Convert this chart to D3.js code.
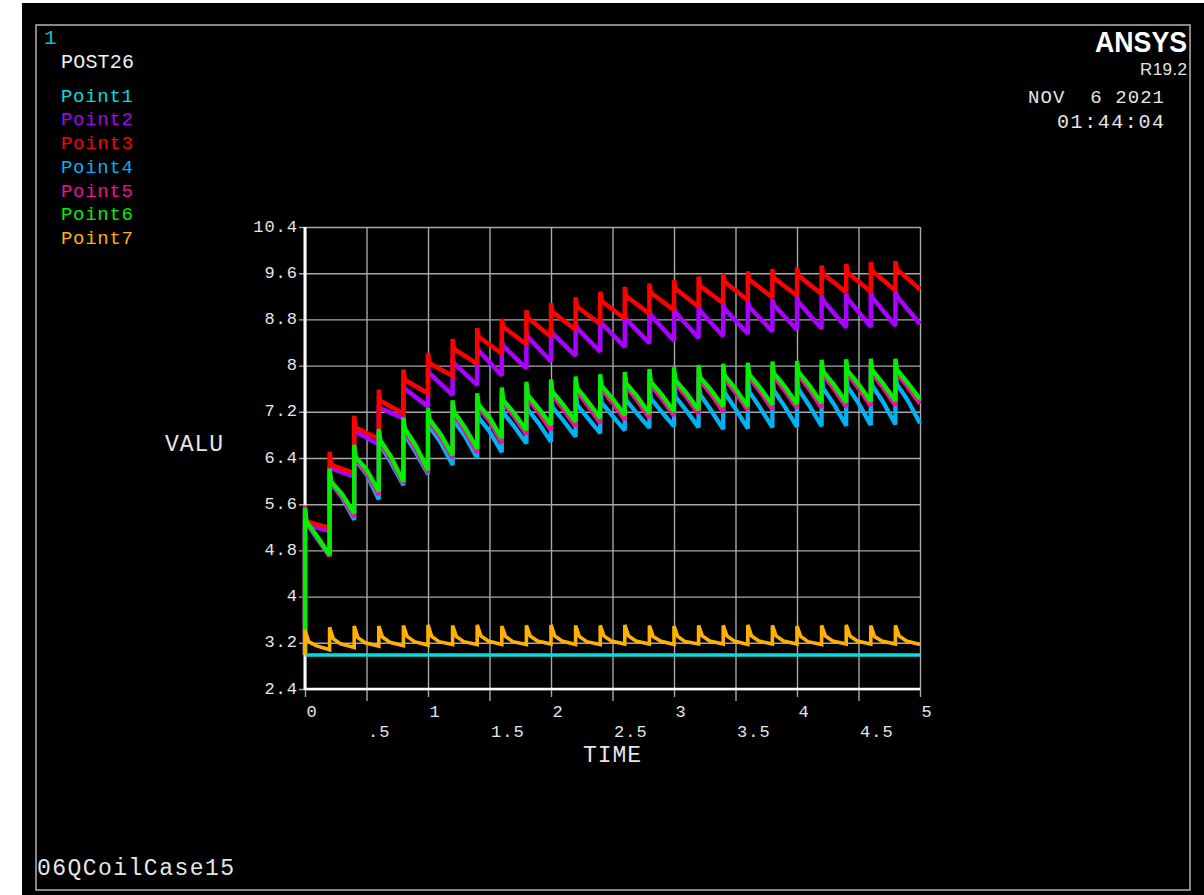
<!DOCTYPE html>
<meta charset="utf-8">
<style>
body { margin: 0; background: #fff; }
svg text { font-family: "Liberation Mono", "DejaVu Sans Mono", monospace; white-space: pre; }
.grid line { stroke: #a8a8a8; stroke-width: 1.4; }
.grid path { display: none; }
.tick text { fill: #e6e6e6; font-size: 17px; letter-spacing: 1px; }
</style>
<body>
<script src="https://cdn.jsdelivr.net/npm/d3@7"></script>
<script>
// legend
var pointNames = ["Point1", "Point2", "Point3", "Point4", "Point5", "Point6", "Point7"];
var pointColors = ["#00dede", "#a900ff", "#ff0000", "#00b2f4", "#f0109c", "#00f000", "#ffb000"];

// axes
var xTickValues = [0, 0.5, 1, 1.5, 2, 2.5, 3, 3.5, 4, 4.5, 5];
var xTickLabels = ["0", ".5", "1", "1.5", "2", "2.5", "3", "3.5", "4", "4.5", "5"];
var yTickValues = [2.4, 3.2, 4, 4.8, 5.6, 6.4, 7.2, 8, 8.8, 9.6, 10.4];
var yTickLabels = ["2.4", "3.2", "4", "4.8", "5.6", "6.4", "7.2", "8", "8.8", "9.6", "10.4"];

// heat pulses every 0.2 s
var cycleStart = [0, 0.2, 0.4, 0.6, 0.8, 1, 1.2, 1.4, 1.6, 1.8, 2, 2.2, 2.4, 2.6, 2.8,
                  3, 3.2, 3.4, 3.6, 3.8, 4, 4.2, 4.4, 4.6, 4.8];
var startValue = 2.99;

// Point1: flat
var point1Times = [0, 5];
var point1Values = [2.99, 2.99];

// Point2, Point3: [peak, after jump, before next jump]
var sawOffsets = [0, 0.012, 0.2];
var point2 = [
  [5.30, 5.24, 5.14], [6.26, 6.22, 6.08], [6.92, 6.86, 6.63], [7.32, 7.26, 7.09], [7.68, 7.60, 7.29],
  [7.95, 7.87, 7.49], [8.13, 8.04, 7.66], [8.35, 8.26, 7.83], [8.43, 8.34, 7.95], [8.58, 8.50, 8.07],
  [8.65, 8.56, 8.17], [8.74, 8.65, 8.24], [8.82, 8.73, 8.32], [8.89, 8.80, 8.39], [8.96, 8.87, 8.43],
  [9.01, 8.92, 8.48], [9.05, 8.95, 8.51], [9.08, 8.98, 8.55], [9.12, 9.02, 8.59], [9.15, 9.05, 8.62],
  [9.19, 9.10, 8.64], [9.22, 9.13, 8.66], [9.25, 9.16, 8.67], [9.27, 9.18, 8.69], [9.29, 9.20, 8.72]
];
var point3 = [
  [5.32, 5.30, 5.19], [6.51, 6.28, 6.14], [7.13, 6.93, 6.73], [7.58, 7.39, 7.17], [7.93, 7.75, 7.52],
  [8.22, 8.04, 7.82], [8.46, 8.29, 8.03], [8.65, 8.50, 8.21], [8.81, 8.67, 8.37], [8.96, 8.83, 8.50],
  [9.08, 8.93, 8.62], [9.18, 9.02, 8.72], [9.28, 9.12, 8.81], [9.36, 9.20, 8.90], [9.42, 9.26, 8.96],
  [9.48, 9.33, 9.02], [9.54, 9.38, 9.08], [9.59, 9.45, 9.13], [9.63, 9.49, 9.18], [9.67, 9.52, 9.21],
  [9.70, 9.56, 9.24], [9.73, 9.59, 9.27], [9.76, 9.61, 9.28], [9.79, 9.64, 9.30], [9.81, 9.67, 9.32]
];

// Point4..Point6: [peak, after jump, mid cycle, before next jump]
var bowOffsets = [0, 0.012, 0.1, 0.2];
var point4 = [
  [5.50, 5.28, 5.00, 4.70], [6.18, 5.96, 5.72, 5.33], [6.58, 6.36, 6.12, 5.68], [6.85, 6.62, 6.32, 5.93],
  [7.03, 6.80, 6.50, 6.12], [7.18, 6.94, 6.68, 6.28], [7.30, 7.04, 6.78, 6.40], [7.40, 7.10, 6.86, 6.50],
  [7.48, 7.18, 6.95, 6.65], [7.55, 7.24, 7.00, 6.68], [7.60, 7.28, 7.05, 6.77], [7.64, 7.32, 7.09, 6.83],
  [7.68, 7.36, 7.13, 6.88], [7.72, 7.40, 7.17, 6.92], [7.75, 7.43, 7.20, 6.95], [7.78, 7.46, 7.22, 6.93],
  [7.80, 7.50, 7.23, 6.90], [7.82, 7.53, 7.25, 6.91], [7.84, 7.55, 7.27, 6.93], [7.86, 7.57, 7.29, 6.94],
  [7.88, 7.59, 7.31, 6.95], [7.90, 7.61, 7.33, 6.96], [7.91, 7.63, 7.35, 6.97], [7.92, 7.65, 7.37, 6.98],
  [7.93, 7.68, 7.40, 7.00]
];
var point5 = [
  [5.58, 5.28, 5.02, 4.70], [6.20, 5.97, 5.74, 5.38], [6.60, 6.38, 6.15, 5.76], [6.87, 6.66, 6.37, 5.96],
  [7.06, 6.86, 6.56, 6.14], [7.22, 7.02, 6.76, 6.40], [7.36, 7.15, 6.87, 6.49], [7.47, 7.27, 7.04, 6.65],
  [7.57, 7.35, 7.12, 6.80], [7.66, 7.43, 7.19, 6.88], [7.71, 7.49, 7.25, 6.94], [7.75, 7.55, 7.31, 7.00],
  [7.79, 7.59, 7.36, 7.06], [7.83, 7.63, 7.40, 7.09], [7.88, 7.66, 7.43, 7.13], [7.91, 7.69, 7.46, 7.16],
  [7.95, 7.74, 7.51, 7.20], [7.97, 7.77, 7.53, 7.23], [7.99, 7.79, 7.55, 7.24], [8.01, 7.81, 7.57, 7.26],
  [8.02, 7.83, 7.59, 7.27], [8.04, 7.84, 7.60, 7.28], [8.05, 7.85, 7.61, 7.30], [8.06, 7.86, 7.62, 7.31],
  [8.06, 7.87, 7.63, 7.34]
];
var point6 = [
  [5.53, 5.30, 5.04, 4.72], [6.22, 5.99, 5.78, 5.44], [6.63, 6.42, 6.20, 5.82], [6.90, 6.71, 6.42, 5.99],
  [7.10, 6.91, 6.62, 6.19], [7.26, 7.07, 6.82, 6.45], [7.40, 7.20, 6.93, 6.56], [7.52, 7.32, 7.10, 6.74],
  [7.62, 7.40, 7.18, 6.88], [7.72, 7.49, 7.26, 6.97], [7.76, 7.55, 7.32, 7.03], [7.81, 7.61, 7.38, 7.09],
  [7.85, 7.65, 7.43, 7.14], [7.89, 7.69, 7.47, 7.17], [7.94, 7.72, 7.50, 7.20], [7.97, 7.75, 7.53, 7.23],
  [8.01, 7.80, 7.58, 7.29], [8.03, 7.83, 7.60, 7.29], [8.05, 7.85, 7.62, 7.32], [8.07, 7.87, 7.64, 7.33],
  [8.08, 7.89, 7.66, 7.35], [8.10, 7.90, 7.67, 7.36], [8.11, 7.91, 7.68, 7.38], [8.12, 7.92, 7.69, 7.39],
  [8.12, 7.93, 7.70, 7.42]
];

// Point7: [spike, +0.03, +0.09, before next jump]
var spikeOffsets = [0, 0.03, 0.09, 0.2];
var point7 = [
  [3.42, 3.22, 3.15, 3.08], [3.47, 3.27, 3.18, 3.12], [3.49, 3.29, 3.20, 3.14], [3.49, 3.30, 3.21, 3.15],
  [3.50, 3.31, 3.22, 3.16], [3.51, 3.31, 3.22, 3.17], [3.50, 3.31, 3.22, 3.17], [3.51, 3.32, 3.23, 3.17],
  [3.49, 3.31, 3.22, 3.17], [3.50, 3.32, 3.23, 3.18], [3.51, 3.32, 3.23, 3.17], [3.50, 3.31, 3.22, 3.17],
  [3.50, 3.32, 3.23, 3.18], [3.51, 3.32, 3.23, 3.18], [3.50, 3.31, 3.23, 3.17], [3.49, 3.31, 3.22, 3.18],
  [3.50, 3.32, 3.23, 3.18], [3.50, 3.32, 3.23, 3.17], [3.51, 3.32, 3.23, 3.18], [3.50, 3.32, 3.23, 3.18],
  [3.49, 3.31, 3.22, 3.17], [3.50, 3.32, 3.23, 3.18], [3.51, 3.32, 3.23, 3.18], [3.50, 3.31, 3.23, 3.18],
  [3.50, 3.32, 3.23, 3.17]
];

var W = 1204, H = 895;
var svg = d3.select("body").append("svg")
    .attr("width", W)
    .attr("height", H);

svg.append("rect").attr("width", W).attr("height", H).attr("fill", "#fff");
svg.append("rect").attr("x", 22).attr("y", 3).attr("width", W - 22).attr("height", H - 3).attr("fill", "#000");
svg.append("rect").attr("x", 36).attr("y", 25).attr("width", 1154).attr("height", 865)
    .attr("fill", "none").attr("stroke", "#b4b4b4").attr("stroke-width", 1.5);

var pLeft = 305, pRight = 920, pTop = 227, pBottom = 689;
var x = d3.scaleLinear().domain([0, 5]).range([pLeft, pRight]);
var y = d3.scaleLinear().domain([2.4, 10.4]).range([pBottom, pTop]);

// grid + labels, y
var gy = svg.append("g").attr("class", "grid")
    .attr("transform", "translate(" + pLeft + ",0)")
    .call(d3.axisLeft(y).tickValues(yTickValues)
      .tickFormat(function(d, i) { return yTickLabels[i]; })
      .tickSizeInner(-(pRight - pLeft)).tickSizeOuter(0).tickPadding(7));
gy.selectAll(".tick line").attr("x1", -6);
gy.selectAll(".tick text").attr("dy", 4);

// grid + labels, x
var gx = svg.append("g").attr("class", "grid")
    .attr("transform", "translate(0," + pBottom + ")")
    .call(d3.axisBottom(x).tickValues(xTickValues)
      .tickFormat(function(d, i) { return xTickLabels[i]; })
      .tickSizeInner(-(pBottom - pTop)).tickSizeOuter(0));
gx.selectAll(".tick line").attr("y1", function(d) { return d % 1 ? 12 : 8; });
gx.selectAll(".tick text")
    .attr("text-anchor", "start")
    .attr("x", 1)
    .attr("dy", 0)
    .attr("y", function(d) { return d % 1 ? 48 : 28; });

// white axis lines
svg.append("line").attr("x1", pLeft).attr("x2", pLeft).attr("y1", pTop).attr("y2", pBottom + 1)
    .attr("stroke", "#fff").attr("stroke-width", 3);
svg.append("line").attr("x1", pLeft).attr("x2", pRight).attr("y1", pBottom).attr("y2", pBottom)
    .attr("stroke", "#fff").attr("stroke-width", 2.5);

function cyclePoints(offsets, table) {
  var pts = [[0, startValue]];
  table.forEach(function(c, k) {
    c.forEach(function(v, j) { pts.push([cycleStart[k] + offsets[j], v]); });
  });
  return pts;
}

var series = [
  {pts: point1Times.map(function(t, i) { return [t, point1Values[i]]; }), w: 3.4},
  {pts: cyclePoints(sawOffsets, point2), w: 4.5},
  {pts: cyclePoints(sawOffsets, point3), w: 4.5},
  {pts: cyclePoints(bowOffsets, point4), w: 4.3},
  {pts: cyclePoints(bowOffsets, point5), w: 4.3},
  {pts: cyclePoints(bowOffsets, point6), w: 4.3},
  {pts: cyclePoints(spikeOffsets, point7), w: 3.6}
];

var line = d3.line()
    .x(function(d) { return x(d[0]); })
    .y(function(d) { return y(d[1]); });

svg.append("g").selectAll("path")
    .data(series)
  .enter().append("path")
    .attr("d", function(d) { return line(d.pts); })
    .attr("fill", "none")
    .attr("stroke", function(d, i) { return pointColors[i]; })
    .attr("stroke-width", function(d) { return d.w; })
    .attr("stroke-miterlimit", 2);

// texts
function txt(s, xx, yy, size, fill, anchor, len) {
  var t = svg.append("text").attr("x", xx).attr("y", yy)
    .attr("font-size", size).attr("fill", fill)
    .attr("text-anchor", anchor || "start").text(s);
  if (len) t.attr("textLength", len).attr("lengthAdjust", "spacing");
  return t;
}
txt("1", 44, 43.5, 21, "#00c8c8");
txt("POST26", 61, 67.5, 20, "#f0f0f0", "start", 73);
svg.append("g").selectAll("text")
    .data(pointNames)
  .enter().append("text")
    .attr("x", 61)
    .attr("y", function(d, i) { return 101.7 + i * 23.7; })
    .attr("font-size", 19)
    .attr("fill", function(d, i) { return pointColors[i]; })
    .attr("textLength", 72)
    .attr("lengthAdjust", "spacing")
    .text(function(d) { return d; });

txt("ANSYS", 1187, 51.7, 30, "#fff", "end", 92)
    .style("font-family", "'Liberation Sans', Arial, sans-serif").attr("font-weight", "bold")
    .attr("lengthAdjust", "spacingAndGlyphs");
txt("R19.2", 1187, 75, 17, "#e6e6e6", "end", 47)
    .style("font-family", "'Liberation Sans', Arial, sans-serif");
txt("NOV  6 2021", 1164, 103.3, 19, "#e6e6e6", "end", 136);
txt("01:44:04", 1164, 128.3, 20, "#e6e6e6", "end", 107);

txt("VALU", 165, 451, 23, "#e6e6e6", "start", 58);
txt("TIME", 583, 761.5, 23, "#e6e6e6", "start", 58);
txt("06QCoilCase15", 37, 875, 23, "#e6e6e6", "start", 197);
</script>
